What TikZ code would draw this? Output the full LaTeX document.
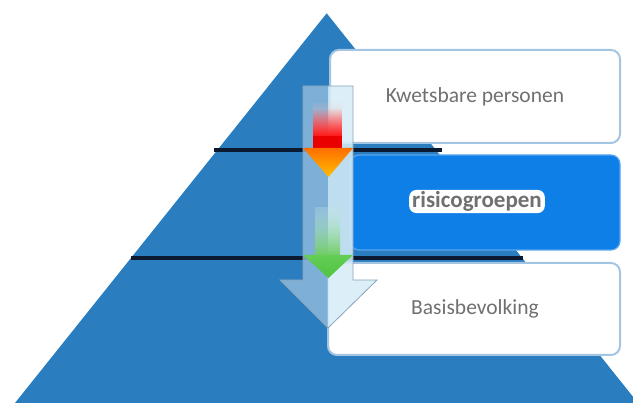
\documentclass[tikz,border=0pt]{standalone}
\usepackage{fontspec}
\setmainfont{Carlito}
\usetikzlibrary{calc,fadings}
\definecolor{pyrblue}{HTML}{2A7DBE}
\definecolor{midblue}{HTML}{0F7FE8}
\definecolor{boxedge}{HTML}{A3C5E2}
\definecolor{labelgray}{HTML}{707070}
\definecolor{sepline}{HTML}{0B1A30}
\definecolor{arrowleft}{HTML}{92BCDE}
\definecolor{arrowright}{HTML}{D7EDF7}
\definecolor{arrowedge}{HTML}{8AA4B8}
\tikzfading[name=fadeup, top color=transparent!100, bottom color=transparent!0]
\tikzfading[name=softup, top color=transparent!75, bottom color=transparent!0]
\tikzset{
  layerbox/.style={draw=boxedge, line width=2pt, rounded corners=9pt, fill=white},
  midbox/.style={draw=midblue!70!white, line width=1.2pt, rounded corners=9pt, fill=midblue},
  layertext/.style={font=\fontsize{21.5}{24}\selectfont, text=labelgray},
  septline/.style={draw=sepline, line width=4pt},
}
\begin{document}
\begin{tikzpicture}[x=1pt,y=-1pt]
  \useasboundingbox (0,0) rectangle (633,403);
  % pyramid
  \fill[pyrblue] (326.7,13.3) -- (638,403) -- (15,403) -- cycle;
  % layer separators
  \draw[septline] (214,150) -- (442,150);
  \draw[septline] (131,258) -- (523,258);
  % layer boxes
  \draw[layerbox] (330,50) rectangle (620,143);
  \draw[midbox] (350,155) rectangle (620,250);
  \draw[layerbox] (328,263) rectangle (620,355);
  % big translucent arrow
  \coordinate (btip) at (328,328);
  \begin{scope}
    \clip (303,86) -- (353,86) -- (353,280) -- (377,280) -- (btip) -- (280,280) -- (303,280) -- cycle;
    \fill[arrowleft, opacity=0.8] (270,80) rectangle (328,335);
    \fill[arrowright, opacity=0.86] (328,80) rectangle (385,335);
  \end{scope}
  \draw[arrowedge, line width=0.8pt, line join=miter]
    (303,86) -- (353,86) -- (353,280) -- (377,280) -- (btip) -- (280,280) -- (303,280) -- cycle;
  % red/orange arrow
  \fill[red!25!white, path fading=fadeup] (313,100) rectangle (342,138);
  \fill[red, path fading=fadeup] (313,108) rectangle (342,140);
  \fill[red!92!black] (313,136) rectangle (342,149);
  \shade[top color={rgb,255:red,255;green,110;blue,0}, bottom color={rgb,255:red,255;green,190;blue,0}]
    (303,148) -- (353,148) -- (328.5,177) -- cycle;
  % green arrow
  \shade[top color={rgb,255:red,200;green,236;blue,236}, bottom color={rgb,255:red,110;green,205;blue,95},
         path fading=softup]
    (315,207) rectangle (340,256);
  \shade[top color={rgb,255:red,100;green,205;blue,85}, bottom color={rgb,255:red,80;green,195;blue,65}]
    (303,255) -- (353,255) -- (328.5,278) -- cycle;
  % labels
  \node[layertext] (kw) at (475,97) {Kwetsbare personen};
  \node[fill=white, rounded corners=7pt, inner xsep=3pt, inner ysep=1.5pt,
        font=\fontsize{23}{25}\selectfont\bfseries, text=labelgray] (rg) at (477,201.5) {risicogroepen};
  \node[layertext] (bb) at (475,309) {Basisbevolking};
\end{tikzpicture}
\end{document}
